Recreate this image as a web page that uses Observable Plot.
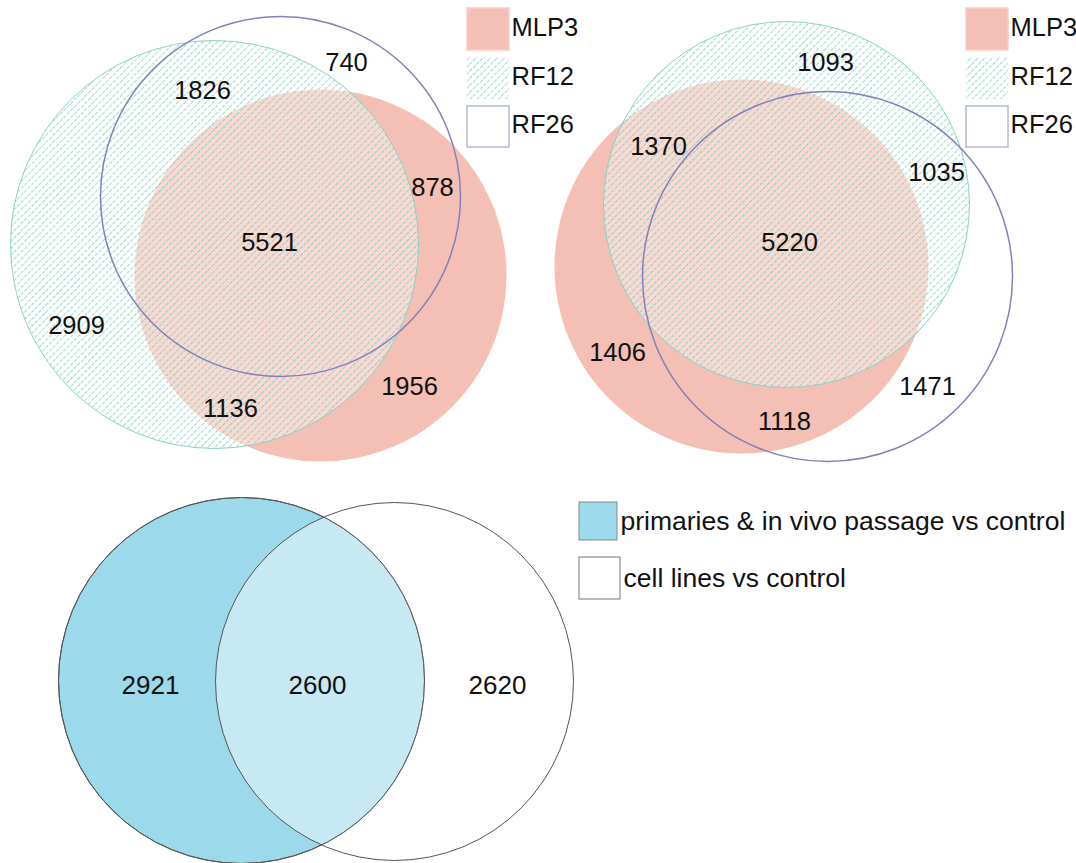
<!DOCTYPE html>
<html><head><meta charset="utf-8">
<script src="https://cdn.jsdelivr.net/npm/d3@7"></script>
<script src="https://cdn.jsdelivr.net/npm/@observablehq/plot@0.6"></script>
<style>html,body{margin:0;padding:0;background:#fff;overflow:hidden}</style>
</head><body><div id="chart"></div>
<script>
// ---- data ----
const sets = ["MLP3", "RF12", "RF26"];
const regionKeys = ["MLP3", "RF12", "RF26", "MLP3&RF12", "MLP3&RF26", "RF12&RF26", "MLP3&RF12&RF26"];
const countsLeft = [1956, 2909, 740, 1136, 878, 1826, 5521];
const countsRight = [1406, 1093, 1471, 1370, 1118, 1035, 5220];
const setsBottom = ["primaries & in vivo passage vs control", "cell lines vs control"];
const regionKeysBottom = ["primaries", "cell lines", "both"];
const countsBottom = [2921, 2620, 2600];

// ---- layout (pixel geometry of the diagrams) ----
const layout = {
  left: {
    circles: [{cx: 320, cy: 275, r: 186}, {cx: 214, cy: 244, r: 204}, {cx: 280, cy: 196, r: 180}],
    labels: [[409, 386], [76, 325], [346, 62], [230, 408], [432, 187], [202, 90], [269, 242]],
    legendX: 467
  },
  right: {
    circles: [{cx: 741, cy: 266, r: 187}, {cx: 786, cy: 204, r: 183}, {cx: 827, cy: 276, r: 185}],
    labels: [[617, 352], [825, 62], [927, 386], [658, 146], [784, 421], [936, 172], [789, 242]],
    legendX: 966
  },
  bottom: {
    circles: [{cx: 241, cy: 680, r: 183}, {cx: 394, cy: 681, r: 179}],
    labels: [[150, 685], [497, 685], [317, 685]],
    legendX: 579,
    legendRows: [[502, 540], [557, 599]]
  },
  legendRows: [[8, 50], [57, 99], [106, 147]]
};

const font = "Liberation Sans, Arial, sans-serif";
const salmon = "#f4bfb4";
const tealLine = "#8ad2c4";
const purple = "#8080bb";

function panelMarks(p, counts) {
  const L = layout[p];
  const circ = sets.map((s, i) => ({set: s, ...L.circles[i]}));
  const labels = regionKeys.map((k, i) => ({key: k, value: counts[i], x: L.labels[i][0], y: L.labels[i][1]}));
  const leg = sets.map((s, i) => ({set: s, x1: L.legendX, x2: L.legendX + 42, y1: layout.legendRows[i][0], y2: layout.legendRows[i][1]}));
  const only = (s) => circ.filter(d => d.set === s);
  return [
    Plot.dot(only("MLP3"), {x: "cx", y: "cy", r: "r", fill: salmon}),
    Plot.dot(only("RF12"), {x: "cx", y: "cy", r: "r", fill: "white", fillOpacity: 0.42}),
    Plot.dot(only("RF12"), {x: "cx", y: "cy", r: "r", fill: "url(#hatch)"}),
    Plot.dot(only("RF12"), {x: "cx", y: "cy", r: "r", stroke: tealLine, strokeWidth: 1}),
    Plot.dot(only("RF26"), {x: "cx", y: "cy", r: "r", stroke: purple, strokeWidth: 1.5}),
    Plot.text(labels, {x: "x", y: "y", text: d => String(d.value), fontSize: 25.5, fill: "#111", fontFamily: font}),
    Plot.rect(leg.filter(d => d.set === "MLP3"), {x1: "x1", x2: "x2", y1: "y1", y2: "y2", fill: salmon, stroke: "#f7d0c8", strokeWidth: 1.5}),
    Plot.rect(leg.filter(d => d.set === "RF12"), {x1: "x1", x2: "x2", y1: "y1", y2: "y2", fill: "url(#hatch)"}),
    Plot.rect(leg.filter(d => d.set === "RF26"), {x1: "x1", x2: "x2", y1: "y1", y2: "y2", fill: "white", stroke: "#b8b8dc", strokeWidth: 1.5}),
    Plot.text(leg, {x: "x2", y: d => (d.y1 + d.y2) / 2 - 2, dx: 2, text: "set", textAnchor: "start", fontSize: 25.5, fill: "#111", fontFamily: font})
  ];
}

function bottomMarks() {
  const L = layout.bottom;
  const circ = setsBottom.map((s, i) => ({set: s, ...L.circles[i]}));
  const labels = regionKeysBottom.map((k, i) => ({key: k, value: countsBottom[i], x: L.labels[i][0], y: L.labels[i][1]}));
  const leg = setsBottom.map((s, i) => ({set: s, x1: L.legendX, x2: L.legendX + (i === 0 ? 38 : 41), y1: L.legendRows[i][0], y2: L.legendRows[i][1]}));
  return [
    Plot.dot(circ.slice(0, 1), {x: "cx", y: "cy", r: "r", fill: "#9cd9ea", stroke: "#555", strokeWidth: 1}),
    Plot.dot(circ.slice(1, 2), {x: "cx", y: "cy", r: "r", fill: "white", fillOpacity: 0.43, stroke: "#555", strokeWidth: 1}),
    Plot.dot(circ.slice(0, 1), {x: "cx", y: "cy", r: "r", stroke: "#555", strokeWidth: 1}),
    Plot.text(labels, {x: "x", y: "y", text: d => String(d.value), fontSize: 26, fill: "#111", fontFamily: font}),
    Plot.rect(leg.slice(0, 1), {x1: "x1", x2: "x2", y1: "y1", y2: "y2", fill: "#9cd9ea", stroke: "#888", strokeWidth: 1}),
    Plot.rect(leg.slice(1, 2), {x1: "x1", x2: "x2", y1: "y1", y2: "y2", fill: "white", stroke: "#777", strokeWidth: 1}),
    Plot.text(leg, {x: "x2", y: d => (d.y1 + d.y2) / 2, dx: 3, text: "set", textAnchor: "start", fontSize: 26.5, fill: "#111", fontFamily: font})
  ];
}

const chart = Plot.plot({
  width: 1076,
  height: 863,
  margin: 0,
  style: {background: "white", fontFamily: font},
  x: {domain: [0, 1076], range: [0, 1076], axis: null},
  y: {domain: [0, 863], range: [0, 863], axis: null},
  r: {type: "identity"},
  marks: [
    ...panelMarks("left", countsLeft),
    ...panelMarks("right", countsRight),
    ...bottomMarks()
  ]
});

// hatch pattern for RF12
const defs = d3.select(chart).insert("defs", ":first-child");
const pat = defs.append("pattern")
  .attr("id", "hatch")
  .attr("patternUnits", "userSpaceOnUse")
  .attr("width", 5).attr("height", 5)
  .attr("patternTransform", "rotate(45)");
pat.append("line")
  .attr("x1", 2.5).attr("y1", 0).attr("x2", 2.5).attr("y2", 5)
  .attr("stroke", "#6cc6b6").attr("stroke-opacity", 0.75)
  .attr("stroke-width", 0.9).attr("stroke-dasharray", "3.8 1.2");

document.getElementById("chart").appendChild(chart);
</script></body></html>
